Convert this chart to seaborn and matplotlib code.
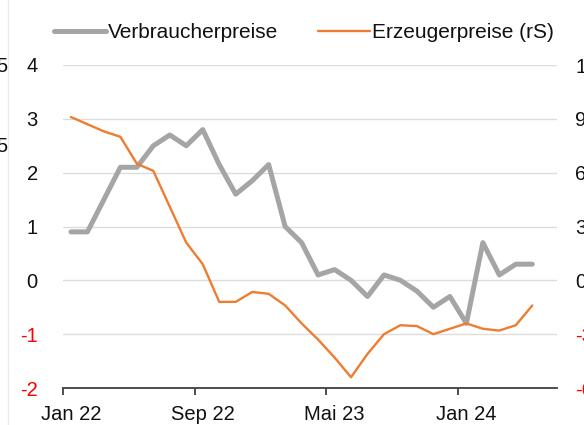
import numpy as np
import pandas as pd
import matplotlib
matplotlib.use("Agg")
import matplotlib.pyplot as plt
import seaborn as sns
from matplotlib.lines import Line2D

# ---- data -------------------------------------------------------------
months = ["Jan 22", "Feb 22", "Mär 22", "Apr 22", "Mai 22", "Jun 22", "Jul 22",
          "Aug 22", "Sep 22", "Okt 22", "Nov 22", "Dez 22", "Jan 23", "Feb 23",
          "Mär 23", "Apr 23", "Mai 23", "Jun 23", "Jul 23", "Aug 23", "Sep 23",
          "Okt 23", "Nov 23", "Dez 23", "Jan 24", "Feb 24", "Mär 24", "Apr 24",
          "Mai 24"]
verbraucherpreise = [0.9, 0.9, 1.5, 2.1, 2.1, 2.5, 2.7, 2.5, 2.8, 2.15, 1.6, 1.85,
                     2.15, 1.0, 0.7, 0.1, 0.2, 0.0, -0.3, 0.1, 0.0, -0.2, -0.5,
                     -0.3, -0.8, 0.7, 0.1, 0.3, 0.3]
erzeugerpreise = [9.1, 8.7, 8.3, 8.0, 6.5, 6.1, 4.1, 2.1, 0.9, -1.2, -1.2, -0.65,
                  -0.75, -1.4, -2.4, -3.3, -4.3, -5.4, -4.1, -3.0, -2.5, -2.55,
                  -3.0, -2.7, -2.4, -2.7, -2.8, -2.5, -1.4]
xtick_labels = ["Jan 22", "Sep 22", "Mai 23", "Jan 24"]
left_ticks = [-2, -1, 0, 1, 2, 3, 4]
right_ticks = [-6, -3, 0, 3, 6, 9, 12]
series_names = ["Verbraucherpreise", "Erzeugerpreise (rS)"]

# ---- style --------------------------------------------------------------
sns.set_style("white")
plt.rcParams['font.family'] = ['Liberation Sans', 'DejaVu Sans']

GRAY = "#A5A5A5"
ORANGE = "#ED7D31"
RED = "#FF0000"
TXT = "#111111"
FS = 14.5

df = pd.DataFrame({"idx": np.arange(len(months)), "month": months,
                   series_names[0]: verbraucherpreise,
                   series_names[1]: erzeugerpreise})

W, H = 584, 425
fig = plt.figure(figsize=(W / 100, H / 100), dpi=100)
ax = fig.add_axes([62.7 / W, 1 - 388 / H, (557 - 62.7) / W, (388 - 65) / H])
ax2 = ax.twinx()

sns.lineplot(data=df, x="idx", y=series_names[0], ax=ax, color=GRAY, lw=3.6,
             legend=False)
sns.lineplot(data=df, x="idx", y=series_names[1], ax=ax2, color=ORANGE, lw=1.7,
             legend=False)

ax.set_xlim(-0.5, len(months) + 0.5)
ax.set_ylim(left_ticks[0], left_ticks[-1])
ax2.set_ylim(right_ticks[0], right_ticks[-1])

# x-axis: labels at categories, tick marks between categories
tick_idx = [months.index(m) for m in xtick_labels]
ax.set_xticks(tick_idx)
ax.set_xticklabels(xtick_labels, fontsize=FS, color=TXT)
ax.set_xticks([i - 0.5 for i in tick_idx], minor=True)
ax.tick_params(axis="x", which="major", length=0, pad=12)
ax.tick_params(axis="x", which="minor", length=5, width=1.3, color="#404040",
               direction="out", bottom=True)
ax.set_xlabel("")
ax.set_ylabel("")
ax2.set_ylabel("")

# y-axes
ax.set_yticks(left_ticks)
ax.set_yticklabels([str(v) for v in left_ticks], fontsize=FS)
ax.tick_params(axis="y", length=0, pad=18)
for lbl, v in zip(ax.get_yticklabels(), left_ticks):
    lbl.set_color(RED if v < 0 else TXT)
ax2.set_yticks(right_ticks)
ax2.set_yticklabels([str(v) for v in right_ticks], fontsize=FS)
ax2.tick_params(axis="y", length=0, pad=13)
for lbl, v in zip(ax2.get_yticklabels(), right_ticks):
    lbl.set_color(RED if v < 0 else TXT)

ax.yaxis.grid(True, color="#DCDCDC", lw=1)
ax.xaxis.grid(False)
ax2.grid(False)
for s in ["top", "left", "right"]:
    ax.spines[s].set_visible(False)
for s in ax2.spines.values():
    s.set_visible(False)
ax.spines["bottom"].set_color("#404040")
ax.spines["bottom"].set_linewidth(1.3)

# legend
handles = [Line2D([], [], color=GRAY, lw=3.6), Line2D([], [], color=ORANGE, lw=1.7)]
leg = fig.legend(handles, series_names, loc="center", bbox_to_anchor=(0.52, 1 - 33 / H),
                 ncol=2, frameon=False, fontsize=15, handlelength=2.5,
                 handletextpad=0.1, columnspacing=1.9)
for t in leg.get_texts():
    t.set_color(TXT)

# cut-off remnants of the neighbouring chart at the left edge
fig.text(7 / W, 1 - 67 / H, "5", ha="right", va="center", fontsize=FS, color=TXT)
fig.text(7 / W, 1 - 147 / H, "5", ha="right", va="center", fontsize=FS, color=TXT)
fig.add_artist(Line2D([8 / W, 8 / W], [0, 1], transform=fig.transFigure,
                      color="#EBEBEB", lw=1))

fig.savefig("out.png", dpi=100)
